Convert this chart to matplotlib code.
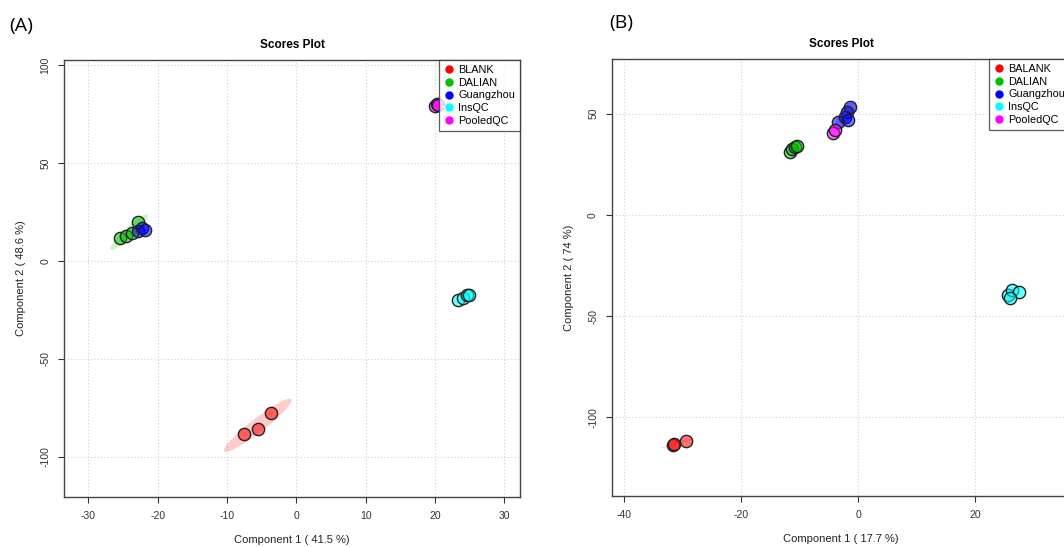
import numpy as np
import matplotlib
matplotlib.use("Agg")
import matplotlib.pyplot as plt
from matplotlib.patches import Ellipse
from matplotlib.lines import Line2D

plt.rcParams['font.family'] = ['Liberation Sans', 'DejaVu Sans']
plt.rcParams['axes.unicode_minus'] = False

# Panel A scores
groups_a = ['BLANK', 'DALIAN', 'Guangzhou', 'InsQC', 'PooledQC']
a_blank_x = [-7.6, -5.5, -3.6]
a_blank_y = [-88.2, -85.8, -77.6]
a_dalian_x = [-25.4, -24.5, -23.7, -22.8]
a_dalian_y = [11.7, 12.8, 14.3, 20.0]
a_guang_x = [-22.8, -22.3, -21.8]
a_guang_y = [15.5, 16.6, 15.6]
a_insqc_x = [23.4, 24.0, 24.6, 24.9]
a_insqc_y = [-19.8, -19.0, -17.6, -17.4]
a_pooled_x = [20.0, 20.3, 20.5]
a_pooled_y = [79.2, 80.0, 79.6]

# Panel B scores
groups_b = ['BALANK', 'DALIAN', 'Guangzhou', 'InsQC', 'PooledQC']
b_blank_x = [-31.6, -31.4, -29.4]
b_blank_y = [-113.6, -113.1, -111.6]
b_dalian_x = [-11.6, -11.2, -10.8, -10.4]
b_dalian_y = [31.0, 32.6, 33.4, 34.2]
b_guang_x = [-1.4, -1.9, -2.2, -3.4, -1.7]
b_guang_y = [53.1, 50.6, 48.2, 45.7, 46.7]
b_insqc_x = [25.6, 26.3, 27.4, 26.0]
b_insqc_y = [-39.3, -36.9, -37.9, -40.8]
b_pooled_x = [-4.3, -3.9]
b_pooled_y = [40.3, 41.8]

colors = ['#FF0000', '#00C000', '#0000FF', '#00FFFF', '#FF00FF']


def conf_ellipse(ax, x, y, color):
    x = np.asarray(x)
    y = np.asarray(y)
    if len(x) < 3:
        return
    cov = np.cov(x, y)
    vals, vecs = np.linalg.eigh(cov)
    angle = np.degrees(np.arctan2(vecs[1, 1], vecs[0, 1]))
    k = 2.45
    w, h = 2 * k * np.sqrt(vals[1]), 2 * k * np.sqrt(max(vals[0], 1e-6))
    ax.add_patch(Ellipse((x.mean(), y.mean()), w, h, angle=angle,
                         facecolor=color, alpha=0.2, edgecolor='none', zorder=1))


def scores_panel(ax, series, names, xlabel, ylabel, xticks, yticks, xlim, ylim):
    for (x, y), c in zip(series, colors):
        conf_ellipse(ax, x, y, c)
    for (x, y), c in zip(series, colors):
        fc = matplotlib.colors.to_rgba(c, 0.55)
        ax.scatter(x, y, s=78, facecolor=fc, edgecolor='#222222', linewidth=1.0, zorder=3)
    ax.set_xlim(*xlim)
    ax.set_ylim(*ylim)
    ax.set_xticks(xticks)
    ax.set_yticks(yticks)
    ax.grid(True, color='#d0d0d0', linestyle=(0, (1, 2)), linewidth=0.8)
    ax.set_axisbelow(True)
    for sp in ax.spines.values():
        sp.set_color('#444444')
        sp.set_linewidth(1.0)
    ax.tick_params(labelsize=7.5, colors='#333333', length=4, width=0.8, pad=6)
    for lab in ax.get_yticklabels():
        lab.set_rotation(90)
        lab.set_va('center')
    ax.set_xlabel(xlabel, fontsize=8, color='#222222', labelpad=10)
    ax.set_ylabel(ylabel, fontsize=8, color='#222222', labelpad=10)
    ax.set_title('Scores Plot', fontsize=8.5, fontweight='bold', pad=9)
    handles = [Line2D([0], [0], marker='o', color='w', markerfacecolor=c,
                      markeredgecolor=c, markersize=5, label=n)
               for c, n in zip(colors, names)]
    leg = ax.legend(handles=handles, loc='upper right', fontsize=7.8,
                    frameon=True, fancybox=False, borderpad=0.45,
                    handletextpad=0.35, labelspacing=0.25, handlelength=1.0,
                    borderaxespad=0.0)
    leg.get_frame().set_edgecolor('#333333')
    leg.get_frame().set_linewidth(0.9)
    leg.set_zorder(5)


fig = plt.figure(figsize=(10.64, 5.47), dpi=100)
ax1 = fig.add_axes([0.0602, 0.0914, 0.4286, 0.7989])
ax2 = fig.add_axes([0.5752, 0.0932, 0.4305, 0.7989])

series_a = [(a_blank_x, a_blank_y), (a_dalian_x, a_dalian_y), (a_guang_x, a_guang_y),
            (a_insqc_x, a_insqc_y), (a_pooled_x, a_pooled_y)]
series_b = [(b_blank_x, b_blank_y), (b_dalian_x, b_dalian_y), (b_guang_x, b_guang_y),
            (b_insqc_x, b_insqc_y), (b_pooled_x, b_pooled_y)]

scores_panel(ax1, series_a, groups_a, 'Component 1 ( 41.5 %)', 'Component 2 ( 48.6 %)',
             [-30, -20, -10, 0, 10, 20, 30], [-100, -50, 0, 50, 100],
             (-33.5, 32.3), (-120.4, 102.5))
scores_panel(ax2, series_b, groups_b, 'Component 1 ( 17.7 %)', 'Component 2 ( 74 %)',
             [-40, -20, 0, 20], [-100, -50, 0, 50],
             (-42.0, 36.2), (-138.8, 77.0))

fig.text(0.009, 0.953, '(A)', fontsize=14, family=['Open Sans', 'DejaVu Sans'], va='center')
fig.text(0.573, 0.958, '(B)', fontsize=14, family=['Open Sans', 'DejaVu Sans'], va='center')

fig.savefig('out.png', dpi=100)
